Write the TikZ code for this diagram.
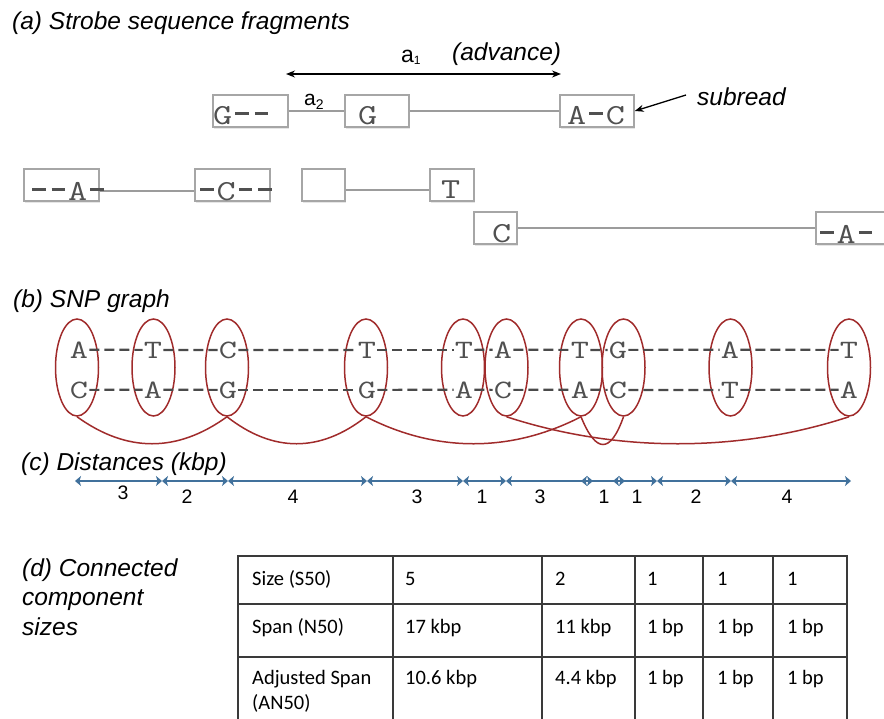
\documentclass[tikz,border=0pt]{standalone}
\usepackage{fontspec}
\setmainfont{Liberation Sans}
\newfontfamily\tblfont{Carlito}
\usetikzlibrary{arrows.meta,shapes.geometric,shadows}
\definecolor{boxgray}{HTML}{A6A6A6}
\definecolor{seqgray}{HTML}{505050}
\definecolor{linkgray}{HTML}{9C9C9C}
\definecolor{snpred}{HTML}{A02B2B}
\definecolor{dashgray}{HTML}{4A4A4A}
\definecolor{axisblue}{HTML}{41719C}
\definecolor{tblline}{HTML}{3A3A3A}
\newcommand{\sd}{\makebox[0.525em]{\rule[0.3em]{0.36em}{0.1em}}}
\newcommand{\seqtxt}[1]{\scalebox{1.28}[1]{\fontsize{29}{31}\selectfont\ttfamily #1}}
\newcommand{\snptxt}[1]{\scalebox{1.33}[1]{\fontsize{26.5}{28}\selectfont\ttfamily #1}}
\begin{document}
\begin{tikzpicture}[x=1pt,y=-1pt,
  ttl/.style={anchor=base west,inner sep=0pt,font=\fontsize{24.5}{29.5}\selectfont\itshape},
  seqbox/.style={draw=boxgray,line width=1.5pt,fill=white,inner sep=0pt,minimum height=32pt,
    drop shadow={opacity=0.2,shadow xshift=1pt,shadow yshift=-2pt}},
  seqlbl/.style={anchor=base west,inner sep=0pt,text=seqgray},
  link/.style={draw=linkgray,line width=1.5pt},
  blackarrow/.style={draw=black,line width=1.3pt},
  snpell/.style={ellipse,draw=snpred,line width=1.5pt,minimum width=43pt,minimum height=97pt,inner sep=0pt},
  snplet/.style={anchor=base,inner sep=1pt,text=seqgray},
  snpdash/.style={draw=dashgray,line width=2.2pt,dash pattern=on 10pt off 5pt},
  snpcurve/.style={draw=snpred,line width=1.5pt},
  axisseg/.style={draw=axisblue,line width=2pt,>={Stealth[length=6pt,width=10pt,inset=1.5pt]},<->},
  dist/.style={anchor=base,inner sep=0pt,font=\fontsize{19.5}{20}\selectfont},
  tbl/.style={draw=tblline,line width=2pt},
  cell/.style={anchor=base west,inner sep=0pt,font=\tblfont\fontsize{20.5}{22}\selectfont}
]
\useasboundingbox (0,0) rectangle (884,718);

% ---------------- (a) ----------------
\node[ttl] (ta) at (12,29) {(a) Strobe sequence fragments};

\node[seqbox,minimum width=75pt] (r1a) at (250.5,111) {};
\node[seqbox,minimum width=64pt] (r1b) at (377,111) {};
\node[seqbox,minimum width=74pt] (r1c) at (597,111) {};
\node[seqbox,minimum width=75pt] (r2a) at (61.5,185) {};
\node[seqbox,minimum width=75pt] (r2b) at (232.5,185) {};
\node[seqbox,minimum width=43pt] (r2c) at (323.5,185) {};
\node[seqbox,minimum width=44pt] (r2d) at (452,185) {};
\node[seqbox,minimum width=43pt] (r3a) at (495.5,228) {};
\node[seqbox,minimum width=84pt] (r3b) at (858,228) {};

\draw[link] (r1a) -- (r1b);
\draw[link] (r1b) -- (r1c);
\draw[link] ([yshift=-6pt]r2a.east) -- ([yshift=-6pt]r2b.west);
\draw[link] ([yshift=-5pt]r2c.east) -- ([yshift=-5pt]r2d.west);
\draw[link] (r3a) -- (r3b);

\node[seqlbl] (s1a) at (213,124) {\seqtxt{G\sd\sd}};
\node[seqlbl] (s1b) at (358,124) {\seqtxt{G}};
\node[seqlbl] (s1c) at (567,124) {\seqtxt{A\sd C}};
\node[seqlbl] (s2a) at (29,200) {\seqtxt{\sd\sd A\sd}};
\node[seqlbl] (s2b) at (197,200) {\seqtxt{\sd C\sd\sd}};
\node[seqlbl] (s2d) at (441,198) {\seqtxt{T}};
\node[seqlbl] (s3a) at (492,242) {\seqtxt{C}};
\node[seqlbl] (s3b) at (817,243) {\seqtxt{\sd A\sd}};

\coordinate (a1l) at (286,74);
\coordinate (a1r) at (561,74);
\draw[blackarrow,<->,>={Stealth[length=9pt,width=7pt]}] (a1l) -- (a1r);
\node[anchor=base west,inner sep=0pt,font=\fontsize{23}{25}\selectfont] (a1) at (401,62)
  {a\raisebox{-2pt}{\fontsize{12}{12}\selectfont 1}};
\node[anchor=base west,inner sep=0pt,font=\fontsize{24.5}{26}\selectfont\itshape] (adv) at (452,60) {(advance)};
\node[anchor=base west,inner sep=0pt,font=\fontsize{21}{22}\selectfont] (a2) at (304,105)
  {a\raisebox{-4pt}{\fontsize{14}{14}\selectfont 2}};
\node[anchor=base west,inner sep=0pt,font=\fontsize{24.5}{26}\selectfont\itshape] (sub) at (697,105) {subread};
\coordinate (subtail) at (686,95);
\draw[blackarrow,-{Stealth[length=9pt,width=7pt]}] (subtail) -- (r1c.east);

% ---------------- (b) ----------------
\node[ttl] (tb) at (13,307) {(b) SNP graph};
\foreach \i/\x/\lx/\ua/\lb in {1/77/79/A/C, 2/153.5/153/T/A, 3/227/228/C/G, 4/366/367/T/G,
    5/463/464/T/A, 6/506.5/503/A/C, 7/581/580/T/A, 8/623.5/618/G/C, 9/730.5/730/A/T, 10/849/849/T/A}{
  \node[snpell] (e\i) at (\x,367.5) {};
  \node[snplet] (t\i) at (\lx,358) {\snptxt{\ua}};
  \node[snplet] (b\i) at (\lx,398) {\snptxt{\lb}};
}
\foreach \i [evaluate=\i as \j using int(\i+1)] in {1,...,9}{
  \draw[snpdash] (t\i) -- (t\j);
  \draw[snpdash] (b\i) -- (b\j);
}
\draw[snpcurve] (e1.south) .. controls +(50,36) and +(-50,36) .. (e3.south);
\draw[snpcurve] (e3.south) .. controls +(46,36) and +(-46,36) .. (e4.south);
\draw[snpcurve] (e4.south) .. controls +(70,36) and +(-70,36) .. (e7.south);
\draw[snpcurve] (e6.south) .. controls +(110,36) and +(-110,36) .. (e10.south);
\draw[snpcurve] (e7.south) .. controls +(15,37) and +(-13,37) .. (e8.south);

% ---------------- (c) ----------------
\node[ttl] (tc) at (21,470) {(c) Distances (kbp)};
\foreach \k/\x in {0/75,1/162,2/228,3/367,4/463,5/506,6/587,7/619,8/657,9/731,10/851}
  \coordinate (d\k) at (\x,481);
\draw[axisseg] (d0) -- (d1);
\draw[axisseg] (d1) -- (d2);
\draw[axisseg] (d2) -- (d3);
\draw[axisseg] (d3) -- (d4);
\draw[axisseg] (d4) -- (d5);
\draw[axisseg] (d5) -- ([xshift=6pt]d6);
\draw[axisseg] ([xshift=-6pt]d6) -- ([xshift=6pt]d7);
\draw[axisseg] ([xshift=-6pt]d7) -- (d8);
\draw[axisseg] (d8) -- (d9);
\draw[axisseg] (d9) -- (d10);
\node[dist] (n1) at (123,499) {3};
\foreach \k/\x/\v in {2/187/2,3/293/4,4/417/3,5/482/1,6/540/3,7/604/1,8/637/1,9/696/2,10/787/4}
  \node[dist] (n\k) at (\x,503) {\v};

% ---------------- (d) ----------------
\node[ttl] (td1) at (22,576) {(d) Connected};
\node[ttl] (td2) at (22,605.5) {component};
\node[ttl] (td3) at (22,635) {sizes};
\foreach \y in {556,604,657} \draw[tbl] (237,\y) -- (848,\y);
\foreach \x in {238,393,542,635,703,773,847} \draw[tbl] (\x,555) -- (\x,725);

\node[cell] (c11) at (252,585) {Size (S50)};
\node[cell] (c12) at (405,585) {5};
\node[cell] (c13) at (555,585) {2};
\node[cell] (c14) at (647,585) {1};
\node[cell] (c15) at (717,585) {1};
\node[cell] (c16) at (787,585) {1};
\node[cell] (c21) at (252,633) {Span (N50)};
\node[cell] (c22) at (405,633) {17 kbp};
\node[cell] (c23) at (555,633) {11 kbp};
\node[cell] (c24) at (647,633) {1 bp};
\node[cell] (c25) at (717,633) {1 bp};
\node[cell] (c26) at (787,633) {1 bp};
\node[cell] (c31) at (252,684) {Adjusted Span};
\node[cell] (c31b) at (252,709) {(AN50)};
\node[cell] (c32) at (405,684) {10.6 kbp};
\node[cell] (c33) at (555,684) {4.4 kbp};
\node[cell] (c34) at (647,684) {1 bp};
\node[cell] (c35) at (717,684) {1 bp};
\node[cell] (c36) at (787,684) {1 bp};
\end{tikzpicture}
\end{document}
